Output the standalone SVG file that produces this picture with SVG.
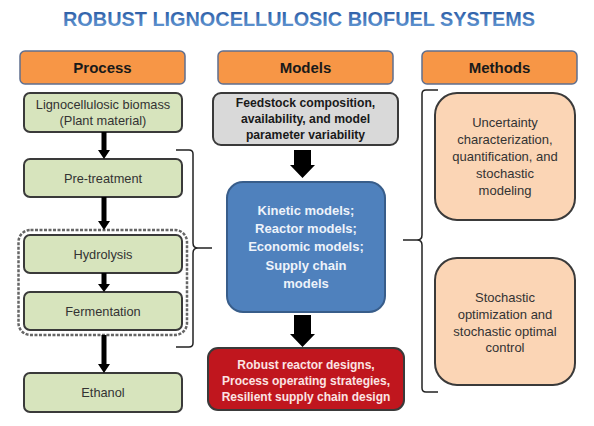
<svg xmlns="http://www.w3.org/2000/svg" width="594" height="426" viewBox="0 0 594 426">
<defs>
<linearGradient id="tg" x1="0" y1="0" x2="0" y2="1">
<stop offset="0" stop-color="#1f4f9c"/>
<stop offset="1" stop-color="#6a9fd8"/>
</linearGradient>
</defs>
<style>
text{font-family:"Liberation Sans",Arial,sans-serif;text-anchor:middle}
.hdr rect{fill:#f79646;stroke:#5f6f8f;stroke-width:1.5}
.hdr text{font-size:15px;font-weight:bold;fill:#1a1a1a}
.proc rect{fill:#d7e4bd;stroke:#3a3a3a;stroke-width:2}
.proc text{font-size:12.8px;fill:#333}
.meth rect{fill:#fbd5b5;stroke:#3a3a3a;stroke-width:2}
.meth text{font-size:13px;fill:#333}
.arr{fill:#000}
.brace{fill:none;stroke:#222;stroke-width:1.5}
</style>
<g id="title">
<text x="299" y="25.5" font-size="19.5" font-weight="bold" fill="url(#tg)" textLength="472" lengthAdjust="spacingAndGlyphs">ROBUST LIGNOCELLULOSIC BIOFUEL SYSTEMS</text>
</g>
<g id="hdr-process" class="hdr"><rect x="20" y="51" width="165" height="33" rx="5"/><text x="102.5" y="73">Process</text></g>
<g id="hdr-models" class="hdr"><rect x="218" y="51" width="175" height="33" rx="5"/><text x="305.5" y="73">Models</text></g>
<g id="hdr-methods" class="hdr"><rect x="422" y="51" width="155" height="33" rx="5"/><text x="499.5" y="73">Methods</text></g>

<g id="dashed-group"><rect x="18.5" y="230" width="168.5" height="105" rx="12" fill="none" stroke="#666" stroke-width="2.5" stroke-dasharray="3 1.5"/></g>

<g id="biomass" class="proc"><rect x="24" y="93" width="158" height="39" rx="6"/><text x="103" y="108.5">Lignocellulosic biomass</text><text x="103" y="125">(Plant material)</text></g>
<g id="pretreatment" class="proc"><rect x="24" y="159" width="158" height="38" rx="6"/><text x="103" y="182.5">Pre-treatment</text></g>
<g id="hydrolysis" class="proc"><rect x="24" y="235" width="158" height="38" rx="6"/><text x="103" y="258.5">Hydrolysis</text></g>
<g id="fermentation" class="proc"><rect x="24" y="292" width="158" height="38" rx="6"/><text x="103" y="315.5">Fermentation</text></g>
<g id="ethanol" class="proc"><rect x="24" y="373" width="158" height="39" rx="6"/><text x="103" y="396.5">Ethanol</text></g>

<g id="feedstock"><rect x="213" y="93" width="185" height="52" rx="8" fill="#d9d9d9" stroke="#3a3a3a" stroke-width="2"/>
<g font-size="12.2" font-weight="bold" fill="#1a1a1a">
<text x="305.5" y="107">Feedstock composition,</text>
<text x="305.5" y="123">availability, and model</text>
<text x="305.5" y="139">parameter variability</text></g></g>

<g id="models"><rect x="227" y="182" width="158" height="130" rx="16" fill="#4f81bd" stroke="#385d8a" stroke-width="2"/>
<g font-size="13" font-weight="bold" fill="#eef3fa">
<text x="306" y="215">Kinetic models;</text>
<text x="306" y="233">Reactor models;</text>
<text x="306" y="251">Economic models;</text>
<text x="306" y="270">Supply chain</text>
<text x="306" y="288">models</text></g></g>

<g id="outcomes"><rect x="208" y="348" width="196" height="62" rx="10" fill="#c0161e" stroke="#3a3a3a" stroke-width="2"/>
<g font-size="12" font-weight="bold" fill="#fbe3e3">
<text x="306" y="369">Robust reactor designs,</text>
<text x="306" y="385">Process operating strategies,</text>
<text x="306" y="401">Resilient supply chain design</text></g></g>

<g id="uncertainty" class="meth"><rect x="435" y="93" width="140" height="127" rx="22"/>
<text x="505" y="127">Uncertainty</text><text x="505" y="144">characterization,</text><text x="505" y="161">quantification, and</text><text x="505" y="178">stochastic</text><text x="505" y="195">modeling</text></g>
<g id="stochastic" class="meth"><rect x="435" y="258" width="140" height="127" rx="22"/>
<text x="505" y="302">Stochastic</text><text x="505" y="319">optimization and</text><text x="505" y="336">stochastic optimal</text><text x="505" y="352">control</text></g>

<g id="connectors">
<polygon class="arr" points="101.5,132 106.5,132 106.5,150 110,150 104,159 98,150 101.5,150"/>
<polygon class="arr" points="101.5,197 106.5,197 106.5,221 110,221 104,230 98,221 101.5,221"/>
<polygon class="arr" points="101.5,273 106.5,273 106.5,284 110,284 104,292 98,284 101.5,284"/>
<polygon class="arr" points="101.5,335 106.5,335 106.5,364 110,364 104,373 98,364 101.5,364"/>
<polygon class="arr" points="294,150 311,150 311,165 315,165 302.5,178 290,165 294,165"/>
<polygon class="arr" points="294,315 311,315 311,334 315,334 302.5,347 290,334 294,334"/>
<path class="brace" d="M176,150 H189 Q193,150 193,154 V243 Q193,248 198,248 H212 M198,248 Q193,248 193,253 V343 Q193,347 189,347 H176"/>
<path class="brace" d="M438,90 H426 Q422,90 422,94 V235 Q422,240 417,240 H403 M417,240 Q422,240 422,245 V388 Q422,392 426,392 H438"/>
</g>
</svg>
